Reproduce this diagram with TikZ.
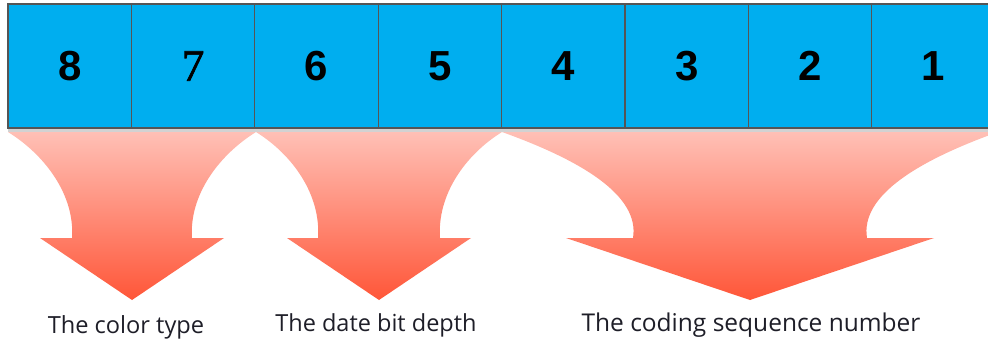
\documentclass[tikz,border=0pt]{standalone}
\usepackage{fontspec}
\setmainfont{Open Sans}
\newfontfamily\digitfont{Liberation Sans}
\newfontfamily\sevenfont[FakeBold=1.5]{Liberation Serif}
\usetikzlibrary{positioning}

\definecolor{cellblue}{RGB}{0,174,239}
\definecolor{cellline}{RGB}{85,85,85}
\definecolor{arrowtop}{RGB}{255,192,182}
\definecolor{arrowbot}{RGB}{255,86,56}
\definecolor{labeltext}{RGB}{30,30,40}

\begin{document}
\begin{tikzpicture}
[x=1pt, y=-1pt, line width=1.2pt,
cell/.style={rectangle, draw=cellline, fill=cellblue, inner sep=0pt,
  minimum width=123.4pt, minimum height=124pt,
  font=\digitfont\bfseries\fontsize{42}{42}\selectfont},
bigarrow/.style={draw=none, top color=arrowtop, bottom color=arrowbot},
caption/.style={inner sep=0pt, anchor=base, text=labeltext}]

\useasboundingbox (0,0) rectangle (988,343);
\clip (0,0) rectangle (988,343);

\fill[gray!35] (8,127) rectangle (988,132);

\node[cell] (b8) at (69.7,66) {8};
\node[cell,font=\sevenfont\fontsize{45}{45}\selectfont] (b7) at (193.1,66) {7};
\node[cell] (b6) at (316.5,66) {6};
\node[cell] (b5) at (439.9,66) {5};
\node[cell] (b4) at (563.3,66) {4};
\node[cell] (b3) at (686.7,66) {3};
\node[cell] (b2) at (810.1,66) {2};
\node[cell] (b1) at (933.5,66) {1};

\shade[bigarrow] (8,132) .. controls (45,155) and (75,195) .. (72,238)
  -- (40,238) -- (132,300) -- (224,238) -- (192,238)
  .. controls (189,195) and (219,155) .. (256,132) -- cycle;
\shade[bigarrow] (256,132) .. controls (293,155) and (321,195) .. (318,238)
  -- (287,238) -- (379,300) -- (471,238) -- (440,238)
  .. controls (437,195) and (465,155) .. (502,132) -- cycle;
\shade[bigarrow] (502,132) .. controls (580,160) and (640,195) .. (633,238)
  -- (566,238) -- (750,300) -- (934,238) -- (867,238)
  .. controls (860,195) and (920,160) .. (998,132) -- cycle;

\node[caption,font=\fontsize{23.6}{23.6}\selectfont] (colortype) at (126,333) {The color type};
\node[caption,font=\fontsize{23.5}{23.5}\selectfont] (bitdepth) at (376,331) {The date bit depth};
\node[caption,font=\fontsize{24.5}{24.5}\selectfont] (seqnum) at (751,331) {The coding sequence number};

\end{tikzpicture}
\end{document}
